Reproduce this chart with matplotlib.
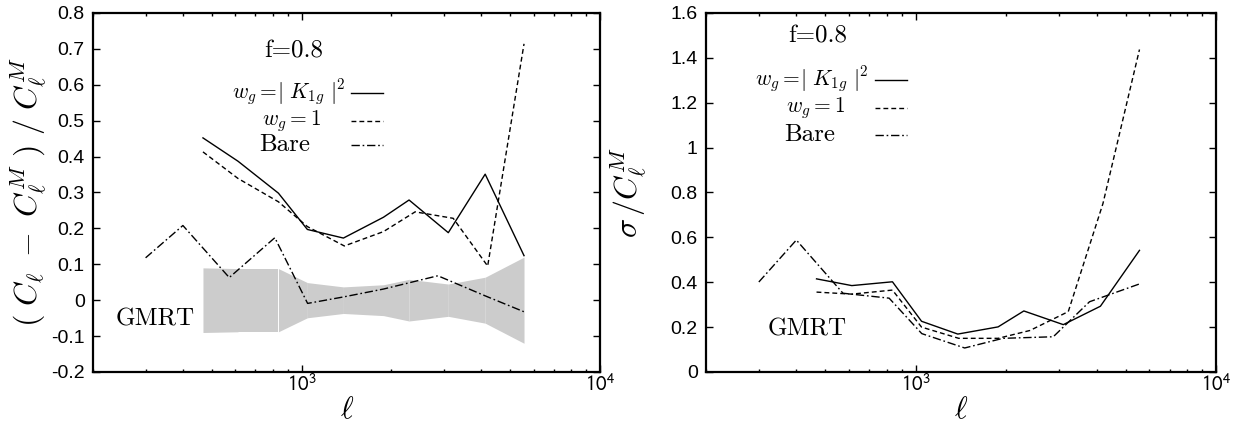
import math

import matplotlib
matplotlib.use("Agg")
import matplotlib.pyplot as plt
from matplotlib.ticker import FixedLocator, FuncFormatter, LogLocator, NullFormatter

plt.rcParams['font.family'] = ['Liberation Sans', 'DejaVu Sans']
plt.rcParams['mathtext.fontset'] = 'cm'
plt.rcParams['axes.unicode_minus'] = False

# ---- data ---------------------------------------------------------------
ell_k1g = [467, 612, 836, 1045, 1380, 1880, 2290, 3100, 4120, 5560]
ell_w1 = [467, 612, 836, 1045, 1390, 1880, 2400, 3220, 4200, 5560]
ell_bare_left = [300, 400, 572, 813, 1047, 1380, 1880, 2860, 4150, 5550]
ell_bare_right = [300, 400, 572, 815, 1047, 1455, 1950, 2870, 3790, 5550]

# left panel: (C_l - C_l^M)/C_l^M
bias_k1g = [0.452, 0.387, 0.298, 0.197, 0.173, 0.231, 0.279, 0.188, 0.351, 0.124]
bias_w1 = [0.413, 0.339, 0.274, 0.205, 0.151, 0.191, 0.246, 0.228, 0.095, 0.714]
bias_bare = [0.118, 0.208, 0.063, 0.174, -0.009, 0.009, 0.031, 0.068, 0.011, -0.032]
gmrt_sigma = [0.090, 0.088, 0.088, 0.049, 0.037, 0.043, 0.058, 0.045, 0.064, 0.120]

# right panel: sigma/C_l^M
err_k1g = [0.415, 0.385, 0.402, 0.226, 0.169, 0.201, 0.272, 0.211, 0.293, 0.542]
err_w1 = [0.356, 0.347, 0.365, 0.200, 0.150, 0.150, 0.185, 0.269, 0.750, 1.437]
err_bare = [0.401, 0.588, 0.351, 0.329, 0.171, 0.107, 0.150, 0.157, 0.313, 0.392]

labels = [r'$w_g =\!|\ K_{1g}\ |^2$', r'$w_g = 1$', 'Bare']
styles = ['-', (0, (3.5, 2.2)), (0, (6, 2, 1.2, 2))]

TXT = 18
fig = plt.figure(figsize=(12.44, 4.3), dpi=100)
ax1 = fig.add_axes([0.0748, 0.1349, 0.4076, 0.835])
ax2 = fig.add_axes([0.5675, 0.1349, 0.4100, 0.835])


def style_axes(ax, ylo, yhi, ystep):
    ax.set_xscale('log')
    ax.set_xlim(200, 1e4)
    ax.set_ylim(ylo, yhi)
    n = int(round((yhi - ylo) / ystep))
    ax.yaxis.set_major_locator(FixedLocator([ylo + i * ystep for i in range(n + 1)]))
    ax.yaxis.set_major_formatter(FuncFormatter(lambda v, p: '%g' % round(v, 3)))
    ax.xaxis.set_major_locator(FixedLocator([1e3, 1e4]))
    ax.xaxis.set_major_formatter(FuncFormatter(
        lambda v, p: r'$10^{%d}$' % round(math.log10(v))))
    ax.xaxis.set_minor_locator(LogLocator(base=10, subs=range(2, 10)))
    ax.xaxis.set_minor_formatter(NullFormatter())
    ax.tick_params(which='both', direction='in', top=True, right=True, width=1.0)
    ax.tick_params(which='major', length=5)
    ax.tick_params(which='minor', length=2.5)
    ax.tick_params(axis='y', labelsize=14, pad=6)
    ax.tick_params(axis='x', labelsize=15, pad=1)
    for t in ax.get_xticklabels():
        t.set_math_fontfamily('stixsans')
    for s in ax.spines.values():
        s.set_linewidth(1.6)
    ax.set_xlabel(r'$\ell$', fontsize=22)
    ax.xaxis.set_label_coords(0.5, -0.105)
    ax.xaxis.label.set_va('center')


def draw_key(ax, text_right, line_x, rows):
    for lab, ls, xr, y in zip(labels, styles, text_right, rows):
        if lab.startswith('$'):
            ax.text(xr, y, lab, transform=ax.transAxes, ha='right', va='center',
                    fontsize=TXT - 2.5)
        else:
            ax.text(xr, y, lab, transform=ax.transAxes, ha='right', va='center',
                    fontsize=TXT, family='cmr10')
        ax.plot(line_x, [y, y], transform=ax.transAxes, color='black',
                lw=1.0, ls=ls, clip_on=False)


# ---- left panel ----------------------------------------------------------
style_axes(ax1, -0.2, 0.8, 0.1)
for i in range(len(ell_k1g) - 1):
    xs = ell_k1g[i:i + 2]
    s = gmrt_sigma[i:i + 2]
    ax1.fill_between(xs, [-v for v in s], s, color='#cccccc', lw=0, zorder=1)
ax1.plot(ell_k1g, bias_k1g, color='black', lw=1.0, ls=styles[0], zorder=3)
ax1.plot(ell_w1, bias_w1, color='black', lw=1.0, ls=styles[1], zorder=3)
ax1.plot(ell_bare_left, bias_bare, color='black', lw=1.0, ls=styles[2], zorder=3)
ax1.set_ylabel(r'$(\ C_\ell\ -\ C_\ell^M\ )\ /\ C_\ell^M$', fontsize=23)
ax1.yaxis.set_label_coords(-0.086, 0.5)
ax1.text(0.396, 0.894, 'f=0.8', transform=ax1.transAxes, ha='center',
         va='center', fontsize=TXT, family='cmr10')
ax1.text(0.123, 0.145, 'GMRT', transform=ax1.transAxes, ha='center',
         va='center', fontsize=TXT, family='cmr10')
draw_key(ax1, [0.498, 0.450, 0.428], [0.508, 0.572], [0.778, 0.700, 0.633])

# ---- right panel ---------------------------------------------------------
style_axes(ax2, 0.0, 1.6, 0.2)
ax2.plot(ell_k1g, err_k1g, color='black', lw=1.0, ls=styles[0], zorder=3)
ax2.plot(ell_w1, err_w1, color='black', lw=1.0, ls=styles[1], zorder=3)
ax2.plot(ell_bare_right, err_bare, color='black', lw=1.0, ls=styles[2], zorder=3)
ax2.set_ylabel(r'$\sigma\,/C_\ell^M$', fontsize=23)
ax2.yaxis.set_label_coords(-0.112, 0.5)
ax2.text(0.219, 0.935, 'f=0.8', transform=ax2.transAxes, ha='center',
         va='center', fontsize=TXT, family='cmr10')
ax2.text(0.199, 0.118, 'GMRT', transform=ax2.transAxes, ha='center',
         va='center', fontsize=TXT, family='cmr10')
draw_key(ax2, [0.319, 0.273, 0.253], [0.331, 0.395], [0.814, 0.735, 0.661])

fig.savefig('out.png', dpi=100)
